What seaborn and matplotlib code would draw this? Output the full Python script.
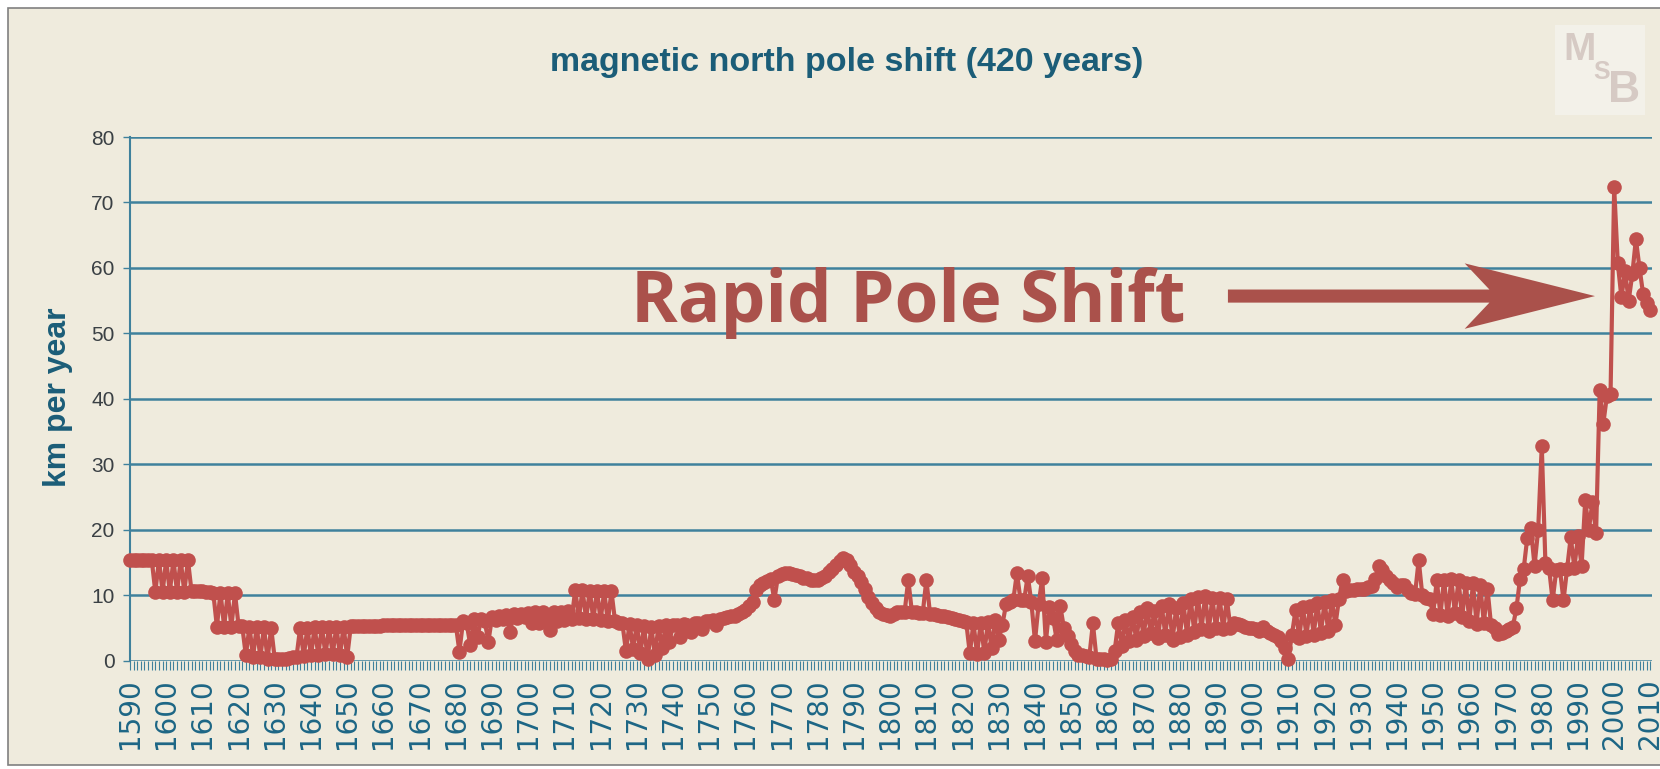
import numpy as np
import pandas as pd
import seaborn as sns
import matplotlib
matplotlib.use('Agg')
import matplotlib.pyplot as plt
from matplotlib.ticker import MultipleLocator
from matplotlib.patches import Rectangle, FancyArrow

# yearly pole drift, km per year
years = np.arange(1590, 2011)

shift_1590_1639 = [
    15.4, 15.4, 15.4, 15.4, 15.4, 15.4, 15.4, 10.5, 15.4, 10.5,
    15.4, 10.5, 15.4, 10.5, 15.4, 10.5, 15.4, 10.6, 10.7, 10.6,
    10.6, 10.5, 10.5, 10.4, 5.2, 10.4, 5.2, 10.3, 5.2, 10.3,
    5.3, 5.3, 0.8, 5.2, 0.6, 5.2, 0.5, 5.1, 0.3, 5.0,
    0.2, 0.2, 0.3, 0.3, 0.4, 0.5, 0.6, 5.0, 0.7, 5.0]
shift_1640_1689 = [
    0.8, 5.1, 0.9, 5.1, 1.0, 5.1, 1.0, 5.2, 0.9, 5.2,
    0.6, 5.3, 5.3, 5.3, 5.3, 5.3, 5.3, 5.3, 5.3, 5.3,
    5.4, 5.4, 5.4, 5.4, 5.4, 5.4, 5.4, 5.4, 5.4, 5.4,
    5.4, 5.4, 5.4, 5.4, 5.5, 5.5, 5.5, 5.5, 5.5, 5.5,
    5.5, 1.4, 6.0, 5.7, 2.4, 6.3, 3.6, 6.4, 6.0, 2.9]
shift_1690_1739 = [
    6.6, 6.2, 6.8, 6.4, 7.0, 4.4, 7.1, 6.5, 7.2, 6.6,
    7.3, 5.8, 7.4, 5.8, 7.4, 6.0, 4.7, 7.5, 6.0, 7.5,
    6.2, 7.6, 6.4, 10.8, 6.5, 10.8, 6.4, 10.7, 6.3, 10.7,
    6.2, 10.6, 6.0, 10.6, 6.0, 5.8, 5.8, 1.5, 5.6, 1.8,
    5.5, 1.2, 5.3, 0.2, 5.2, 0.8, 5.3, 2.0, 5.4, 2.8]
shift_1740_1789 = [
    5.5, 5.4, 3.6, 5.6, 5.5, 4.4, 5.7, 5.8, 4.8, 6.0,
    6.0, 6.2, 5.4, 6.4, 6.5, 6.6, 6.8, 6.9, 7.1, 7.4,
    7.8, 8.3, 9.0, 10.8, 11.5, 11.8, 12.2, 12.5, 9.3, 12.9,
    13.2, 13.4, 13.4, 13.3, 13.1, 12.9, 12.7, 12.6, 12.4, 12.3,
    12.3, 12.6, 13.0, 13.5, 14.0, 14.6, 15.2, 15.7, 15.4, 14.6]
shift_1790_1839 = [
    13.6, 12.9, 12.0, 11.0, 9.8, 8.8, 8.0, 7.5, 7.2, 7.0,
    6.9, 7.2, 7.4, 7.5, 7.5, 12.4, 7.4, 7.4, 7.3, 7.3,
    12.4, 7.2, 7.1, 7.0, 6.9, 6.8, 6.6, 6.5, 6.3, 6.2,
    6.0, 5.9, 1.1, 5.8, 1.0, 5.8, 1.2, 5.9, 2.0, 6.2,
    3.2, 5.5, 8.6, 9.0, 9.2, 13.4, 9.3, 9.2, 13.0, 8.9]
shift_1840_1889 = [
    3.0, 8.6, 12.6, 2.9, 8.2, 6.5, 3.2, 8.3, 5.0, 3.8,
    2.5, 1.5, 0.9, 0.8, 0.7, 0.6, 5.7, 0.3, 0.2, 0.2,
    0.1, 0.3, 1.5, 5.8, 2.2, 6.2, 3.0, 6.6, 3.2, 7.5,
    3.8, 8.0, 4.2, 7.6, 3.5, 8.4, 4.0, 8.6, 3.2, 8.0,
    3.6, 8.8, 4.0, 9.5, 4.4, 9.8, 4.8, 9.9, 4.6, 9.6]
shift_1890_1939 = [
    5.0, 9.6, 4.8, 9.4, 5.0, 5.8, 5.6, 5.4, 5.2, 5.0,
    5.0, 4.8, 4.6, 5.2, 4.5, 4.2, 4.0, 3.6, 3.0, 2.0,
    0.3, 4.0, 7.8, 3.5, 8.2, 3.8, 8.4, 4.0, 8.8, 4.3,
    9.0, 4.6, 9.2, 5.5, 9.5, 12.4, 10.6, 10.8, 10.8, 11.0,
    11.0, 11.0, 11.2, 11.4, 12.5, 14.4, 13.8, 13.0, 12.3, 11.8]
shift_1940_1989 = [
    11.3, 11.5, 11.6, 10.8, 10.3, 10.2, 15.4, 10.0, 9.6, 9.4,
    7.2, 12.3, 7.0, 12.4, 6.8, 12.5, 7.3, 12.3, 6.6, 11.9,
    6.0, 11.8, 5.6, 11.5, 5.8, 11.0, 5.4, 5.0, 4.1, 4.3,
    4.6, 4.9, 5.2, 8.0, 12.5, 14.0, 18.8, 20.2, 14.5, 20.0,
    32.8, 15.0, 14.2, 9.2, 13.8, 14.0, 9.2, 14.0, 18.9, 14.2]
shift_1990_2010 = [
    19.0, 14.5, 24.5, 20.0, 24.3, 19.5, 41.3, 36.2, 40.5, 40.8,
    72.3, 60.7, 55.5, 59.5, 55.0, 59.0, 64.4, 60.0, 56.0, 54.6,
    53.6]

km_per_year = (shift_1590_1639 + shift_1640_1689 + shift_1690_1739 +
               shift_1740_1789 + shift_1790_1839 + shift_1840_1889 +
               shift_1890_1939 + shift_1940_1989 + shift_1990_2010)

df = pd.DataFrame({'year': years, 'km': km_per_year})

beige = '#efebdd'
teal = '#1b5d78'
grid_col = '#3f819c'
red = '#c0504d'
note_red = '#aa514b'

sns.set_theme(style='white')
plt.rcParams['font.family'] = ['Liberation Sans', 'DejaVu Sans']

W, H = 1660, 769
fig = plt.figure(figsize=(W / 100, H / 100), dpi=100, facecolor='white')
fig.patches.append(Rectangle((8 / W, 4 / H), 1.0, 757 / H, transform=fig.transFigure,
                             facecolor=beige, edgecolor='#808080', lw=1.2, zorder=-2))
# faint logo box
fig.patches.append(Rectangle((1555 / W, 1 - 115 / H), 90 / W, 90 / H, transform=fig.transFigure,
                             facecolor='#f3f1e9', edgecolor='none', zorder=-1))

ax = fig.add_axes([130 / W, (H - 660.7) / H, 1522 / W, 523.7 / H])
ax.patch.set_alpha(0)

sns.lineplot(data=df, x='year', y='km', ax=ax, color=red, linewidth=3,
             marker='o', markersize=10.5, markeredgewidth=0, clip_on=False, zorder=5)

ax.set_xlim(1590, 2010.45)
ax.set_ylim(0, 80)
ax.xaxis.set_major_locator(MultipleLocator(10))
ax.xaxis.set_minor_locator(MultipleLocator(1))
ax.yaxis.set_major_locator(MultipleLocator(10))

ax.yaxis.grid(True, color=grid_col, lw=1.8)
ax.get_ygridlines()[-1].set_visible(False)
ax.xaxis.grid(False)

for s in ['top', 'right', 'bottom']:
    ax.spines[s].set_visible(False)
ax.spines['left'].set_color(grid_col)
ax.spines['left'].set_linewidth(1.5)

ax.tick_params(axis='x', which='both', bottom=True, length=6.5, width=0.8,
               color=grid_col, direction='out', pad=6)
ax.tick_params(axis='x', which='major', labelsize=20, labelcolor='#1d6685',
               labelrotation=90)
ax.tick_params(axis='y', left=True, length=5, width=1, color=grid_col,
               labelsize=15, labelcolor='#3a4044', pad=6)
for lab in ax.get_xticklabels():
    lab.set_family('DejaVu Sans')

ax.set_xlabel('')
ax.set_ylabel('')

fig.text(847 / W, 1 - 63 / H, 'magnetic north pole shift (420 years)', ha='center',
         va='center', fontsize=24.5, fontweight='bold', color=teal)
fig.text(58 / W, 1 - 397 / H, 'km per year', rotation=90, ha='center', va='center',
         fontsize=23, fontweight='bold', color=teal)

ax.text(1805, 51.7, 'Rapid Pole Shift', ha='center', va='baseline', fontsize=51,
        fontweight='bold', family='Open Sans', color=note_red, zorder=4)
ax.add_patch(FancyArrow(1893.3, 55.7, 101.4, 0, width=2.0, head_width=10,
                        head_length=36, length_includes_head=True, overhang=0.19,
                        color=note_red, lw=0, zorder=4))

# MSB logo
logo = '#d6cac4'
fig.text(1580 / W, 1 - 50 / H, 'M', ha='center', va='center', fontsize=28,
         fontweight='bold', color=logo)
fig.text(1602 / W, 1 - 72 / H, 'S', ha='center', va='center', fontsize=18,
         fontweight='bold', color=logo)
fig.text(1624 / W, 1 - 90 / H, 'B', ha='center', va='center', fontsize=32,
         fontweight='bold', color=logo)

fig.savefig('out.png', dpi=100, facecolor=fig.get_facecolor())
